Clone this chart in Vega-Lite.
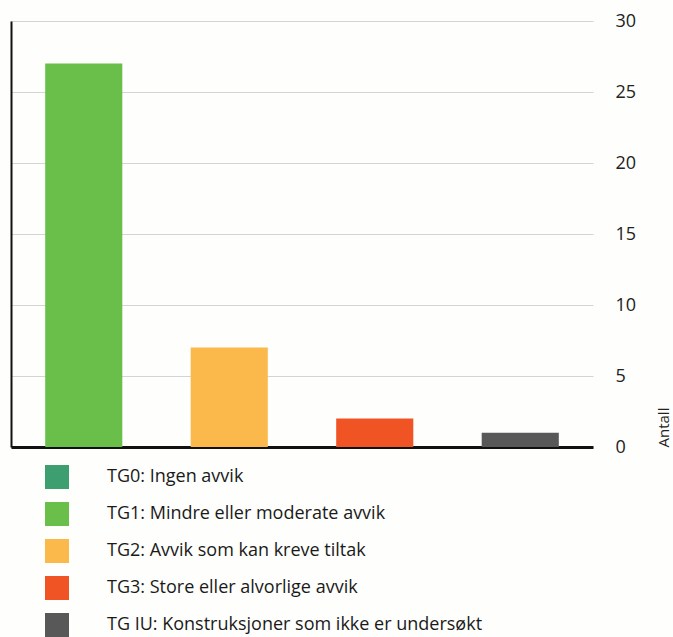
{
  "$schema": "https://vega.github.io/schema/vega-lite/v6.json",
  "autosize": {"type": "none"},
  "width": 582,
  "height": 426,
  "padding": {"left": 11, "top": 21, "right": 80, "bottom": 190},
  "background": "#fefefc",
  "config": {"view": {"stroke": null}, "font": "Open Sans"},
  "data": {
    "values": [
      {"kategori": "TG1: Mindre eller moderate avvik", "antall": 27},
      {"kategori": "TG2: Avvik som kan kreve tiltak", "antall": 7},
      {"kategori": "TG3: Store eller alvorlige avvik", "antall": 2},
      {"kategori": "TG IU: Konstruksjoner som ikke er undersøkt", "antall": 1}
    ]
  },
  "resolve": {"axis": {"y": "independent"}},
  "layer": [
    {
      "mark": {"type": "bar"},
      "encoding": {
        "x": {
          "field": "kategori",
          "type": "nominal",
          "sort": null,
          "scale": {"paddingInner": 0.47, "paddingOuter": 0.235},
          "axis": {"labels": false, "ticks": false, "title": null, "domainColor": "#111111", "domainWidth": 3}
        },
        "y": {
          "field": "antall",
          "type": "quantitative",
          "scale": {"domain": [0, 30]},
          "axis": {
            "orient": "right",
            "values": [0, 5, 10, 15, 20, 25, 30],
            "domain": false,
            "ticks": false,
            "grid": true,
            "gridColor": "#d4d4d4",
            "gridWidth": 1,
            "labelPadding": 22,
            "labelFontSize": 18,
            "labelColor": "#222222",
            "labelAlign": "left",
            "title": "Antall",
            "titleFontSize": 15,
            "titleFontWeight": "normal",
            "titleColor": "#222222",
            "titleAngle": 270,
            "titleAnchor": "start",
            "titleAlign": "left",
            "titleBaseline": "bottom",
            "titlePadding": 36
          }
        },
        "color": {
          "field": "kategori",
          "type": "nominal",
          "scale": {
            "domain": ["TG0: Ingen avvik", "TG1: Mindre eller moderate avvik", "TG2: Avvik som kan kreve tiltak", "TG3: Store eller alvorlige avvik", "TG IU: Konstruksjoner som ikke er undersøkt"],
            "range": ["#3d9f6f", "#6abf4b", "#fbb94b", "#f05424", "#585858"]
          },
          "legend": {
            "title": null,
            "orient": "none",
            "legendX": 34,
            "legendY": 444,
            "direction": "vertical",
            "symbolType": "square",
            "symbolSize": 576,
            "symbolStrokeWidth": 0,
            "labelFontSize": 18,
            "labelColor": "#1a1a1a",
            "labelOffset": 38,
            "labelLimit": 600,
            "rowPadding": 13
          }
        }
      }
    },
    {
      "mark": {"type": "bar", "opacity": 0},
      "encoding": {
        "x": {"field": "kategori", "type": "nominal", "sort": null},
        "y": {
          "field": "antall",
          "type": "quantitative",
          "axis": {"orient": "left", "labels": false, "ticks": false, "grid": false, "title": null, "domainColor": "#111111", "domainWidth": 2}
        }
      }
    }
  ]
}
